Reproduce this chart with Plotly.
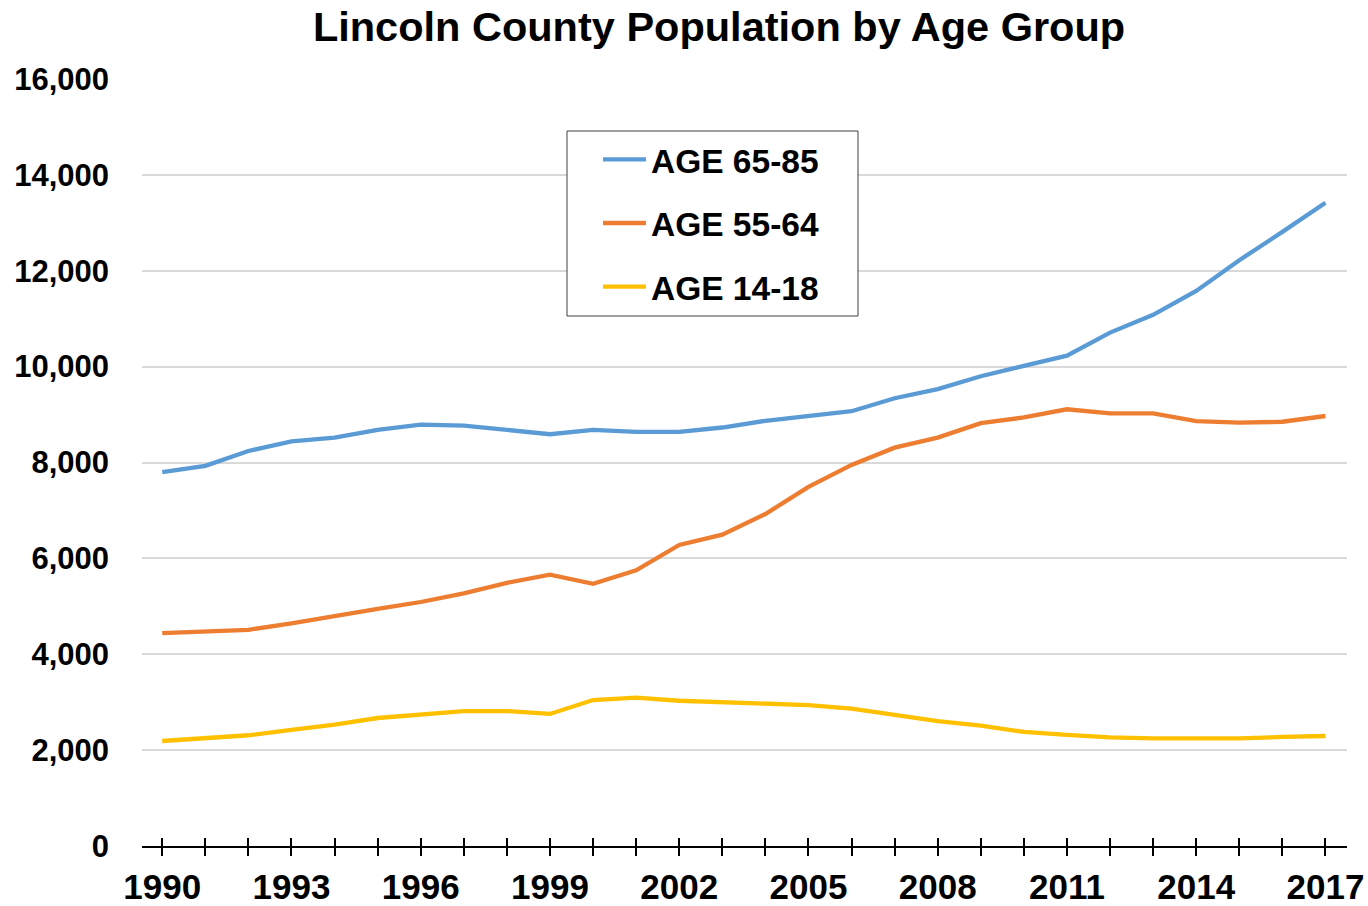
import plotly.graph_objects as go

years = list(range(1990, 2018))
age_65_85 = [7800, 7930, 8240, 8440, 8520, 8680, 8790, 8770, 8680, 8590,
             8680, 8640, 8640, 8730, 8870, 8970, 9070, 9340, 9530, 9800,
             10020, 10230, 10710, 11080, 11580, 12220, 12810, 13420]
age_55_64 = [4440, 4485, 4510, 4645, 4785, 4945, 5090, 5270, 5490, 5660,
             5470, 5750, 6280, 6495, 6925, 7490, 7950, 8310, 8520, 8820,
             8940, 9110, 9025, 9025, 8865, 8830, 8850, 8970]
age_14_18 = [2190, 2245, 2310, 2420, 2530, 2670, 2740, 2815, 2815, 2755,
             3045, 3095, 3030, 3000, 2990, 2940, 2865, 2730, 2605, 2510,
             2380, 2320, 2265, 2245, 2245, 2245, 2275, 2295]
series_names = ["AGE 65-85", "AGE 55-64", "AGE 14-18"]
colors = ["#5B9BD5", "#ED7D31", "#FFC000"]
tick_labels = [str(y) if (y - 1990) % 3 == 0 else "" for y in years]

FONT = "Liberation Sans, Arial, sans-serif"

fig = go.Figure()
for name, vals, col in zip(series_names, [age_65_85, age_55_64, age_14_18], colors):
    fig.add_trace(go.Scatter(x=years, y=vals, mode="lines", name=name,
                             legendgroup=name,
                             line=dict(color=col, width=4.3)))

# helper trace for the upper half of the crossing tick marks
fig.add_trace(go.Scatter(x=years, y=age_65_85, mode="lines", xaxis="x2",
                         line=dict(width=0), opacity=0, showlegend=False,
                         hoverinfo="skip"))

# legend frame
fig.add_shape(type="rect", xref="paper", yref="paper",
              x0=0.3527, x1=0.5942, y0=0.6910, y1=0.9322,
              line=dict(color="#404040", width=1), fillcolor="white",
              layer="above")

fig.update_layout(
    width=1368, height=906,
    margin=dict(l=142, r=21, t=79, b=60),
    paper_bgcolor="white", plot_bgcolor="white",
    title=dict(text="Lincoln County Population by Age Group",
               font=dict(family=FONT, size=41.5, color="black", weight="bold"),
               xref="container", x=0.5256, xanchor="center",
               yref="container", y=1 - 26 / 906, yanchor="middle"),
    xaxis=dict(range=[1989.53, 2017.5], tickmode="array", tickvals=years,
               ticktext=tick_labels, ticks="outside", ticklen=8, tickwidth=2,
               tickcolor="black", showline=True, linecolor="black", linewidth=2,
               showgrid=False, zeroline=False, automargin=False,
               ticklabelstandoff=1,
               tickfont=dict(family=FONT, size=35, color="black", weight="bold")),
    xaxis2=dict(overlaying="x", matches="x", anchor="y", side="bottom",
                tickmode="array", tickvals=years, ticks="inside", ticklen=8,
                tickwidth=2, tickcolor="black", showticklabels=False,
                showline=False, showgrid=False, zeroline=False),
    yaxis=dict(range=[0, 16000], dtick=2000, tickformat=",", showgrid=True,
               gridcolor="#D9D9D9", gridwidth=1.5, zeroline=False,
               showline=False, ticks="", automargin=False,
               ticklabelstandoff=32,
               tickfont=dict(family=FONT, size=31, color="black", weight="bold")),
    legend=dict(x=0.3784, y=0.932, xanchor="left", yanchor="top",
                bgcolor="rgba(0,0,0,0)", borderwidth=0,
                traceorder="grouped", tracegroupgap=17, itemwidth=43,
                font=dict(family=FONT, size=33.5, color="black", weight="bold")),
    showlegend=True,
)

fig.write_html("out.html", config={"displayModeBar": False},
               post_script="document.body.style.margin='0';")
